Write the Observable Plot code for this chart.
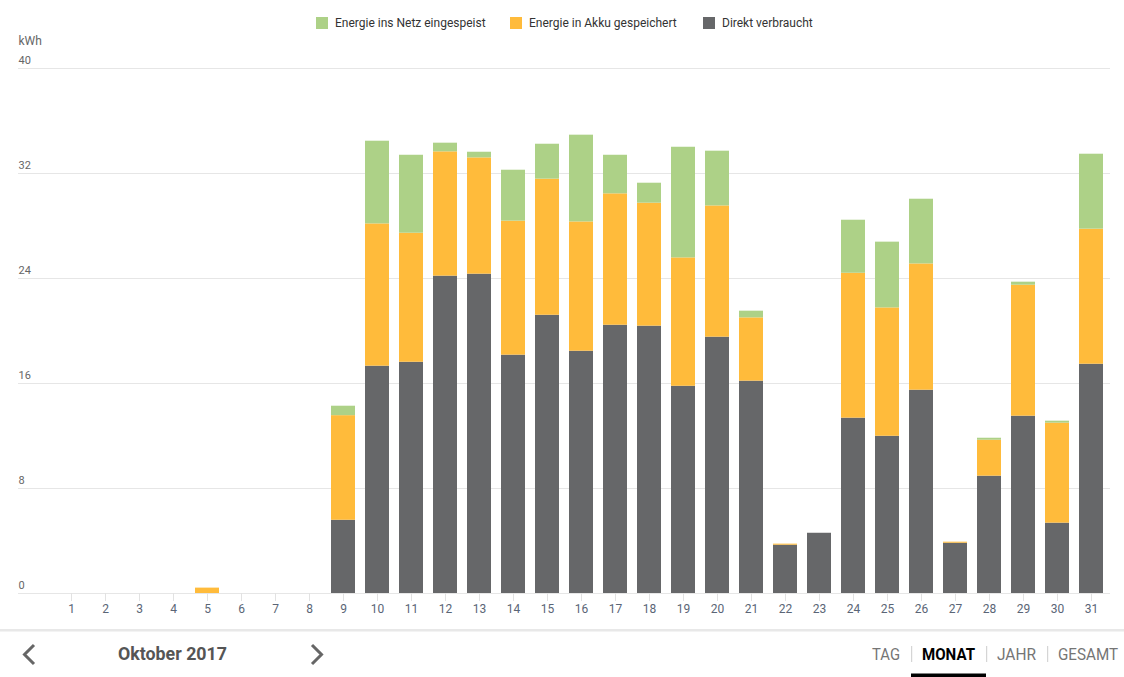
<!DOCTYPE html>
<html>
<head>
<meta charset="utf-8">
<script src="https://cdn.jsdelivr.net/npm/d3@7"></script>
<script src="https://cdn.jsdelivr.net/npm/@observablehq/plot@0.6"></script>
<style>
  html, body { margin: 0; padding: 0; background: #fff; }
  body { width: 1124px; height: 677px; overflow: hidden; font-family: Roboto, sans-serif; }
  #legend, #nav { display: block; }
  #chart svg { display: block; }
</style>
</head>
<body>
<svg id="legend" width="1124" height="30"></svg>
<div id="chart"></div>
<svg id="nav" width="1124" height="48"></svg>
<script>
// ---- Data ----
const days = [1,2,3,4,5,6,7,8,9,10,11,12,13,14,15,16,17,18,19,20,21,22,23,24,25,26,27,28,29,30,31];
const direkt = [0,0,0,0,0,0,0,0,5.58,17.32,17.62,24.18,24.33,18.16,21.20,18.46,20.44,20.37,15.79,19.53,16.18,3.68,4.59,13.36,11.98,15.49,3.83,8.94,13.51,5.36,17.47];
const akku   = [0,0,0,0,0.41,0,0,0,7.97,10.84,9.83,9.47,8.86,10.21,10.37,9.85,10.01,9.37,9.78,10.00,4.82,0.08,0,11.04,9.78,9.62,0.08,2.74,9.98,7.62,10.29];
const netz   = [0,0,0,0,0,0,0,0,0.72,6.30,5.94,0.66,0.43,3.88,2.66,6.61,2.94,1.52,8.43,4.17,0.51,0,0,4.04,5.01,4.93,0,0.15,0.23,0.15,5.71];
const seriesNames = ["Direkt verbraucht", "Energie in Akku gespeichert", "Energie ins Netz eingespeist"];
const seriesColors = ["#666769", "#ffbb3b", "#add187"];
const legendOrder = ["Energie ins Netz eingespeist", "Energie in Akku gespeichert", "Direkt verbraucht"];
const yTicks = [0, 8, 16, 24, 32, 40];
const yUnit = "kWh";
const periodLabel = "Oktober 2017";
const tabs = ["TAG", "MONAT", "JAHR", "GESAMT"];
const activeTab = "MONAT";

// ---- Table ----
const seriesValues = [direkt, akku, netz];
const rows = [];
days.forEach((d, i) => {
  seriesNames.forEach((s, k) => rows.push({day: d, series: s, value: seriesValues[k][i]}));
});

// ---- Legend ----
const NS = "http://www.w3.org/2000/svg";
function el(parent, tag, attrs, text) {
  const e = document.createElementNS(NS, tag);
  for (const k in attrs) e.setAttribute(k, attrs[k]);
  if (text != null) e.textContent = text;
  parent.appendChild(e);
  return e;
}
const legend = document.getElementById("legend");
const legendX = [316, 510, 703];
legendOrder.forEach((name, i) => {
  const color = seriesColors[seriesNames.indexOf(name)];
  el(legend, "rect", {x: legendX[i], y: 17, width: 12, height: 12, fill: color});
  el(legend, "text", {x: legendX[i] + 19, y: 27.3, "font-size": 12, fill: "#333", "font-family": "Roboto, sans-serif"}, name);
});

// ---- Chart ----
const chart = Plot.plot({
  width: 1124,
  height: 599,
  marginLeft: 51,
  marginRight: 14,
  marginTop: 38,
  marginBottom: 36,
  style: {fontFamily: "Roboto, sans-serif", background: "transparent"},
  x: {type: "band", domain: days, paddingInner: 0.3, paddingOuter: 0.15, axis: null, label: null},
  y: {domain: [0, 40], axis: null, label: null},
  color: {domain: seriesNames, range: seriesColors},
  marks: [
    Plot.ruleY(yTicks, {stroke: "#e6e6e6", strokeWidth: 1, insetLeft: -33}),
    Plot.barY(rows, {x: "day", y: "value", fill: "series", order: seriesNames}),
    Plot.axisX({tickSize: 8, tickPadding: 3, stroke: "#e2e2e2", fill: "#5a6576", fontSize: 12, label: null}),
    Plot.text(yTicks, {y: d => d, text: d => String(d), frameAnchor: "left", dx: -33, dy: -8, textAnchor: "start", fill: "#666", fontSize: 11}),
    Plot.text([yUnit], {frameAnchor: "top-left", dx: -33, dy: -32, textAnchor: "start", fill: "#666", fontSize: 12})
  ]
});
document.getElementById("chart").appendChild(chart);

// ---- Navigation ----
const nav = document.getElementById("nav");
el(nav, "rect", {x: 0, y: 0, width: 1124, height: 2.5, fill: "#e8e8e8"});
el(nav, "polyline", {points: "34,16 24.5,25.5 34,35", fill: "none", stroke: "#666", "stroke-width": 3});
el(nav, "polyline", {points: "312,16 321.5,25.5 312,35", fill: "none", stroke: "#666", "stroke-width": 3});
el(nav, "text", {x: 118, y: 31, "font-size": 18, "font-weight": "bold", fill: "#555", "font-family": "Roboto, sans-serif", textLength: 109, lengthAdjust: "spacingAndGlyphs"}, periodLabel);
const tabX = [872, 922, 997, 1058];
const tabW = [28, 53, 39, 60];
tabs.forEach((t, i) => {
  const active = t === activeTab;
  el(nav, "text", {x: tabX[i], y: 31, "font-size": 17, "font-weight": active ? "bold" : "normal", fill: active ? "#000" : "#757575", "font-family": "Roboto, sans-serif", textLength: tabW[i], lengthAdjust: "spacingAndGlyphs"}, t);
});
[911.7, 986.7, 1047.7].forEach(x => el(nav, "line", {x1: x, x2: x, y1: 17, y2: 33, stroke: "#cccccc", "stroke-width": 1}));
el(nav, "rect", {x: 911, y: 44.5, width: 75, height: 4, fill: "#000"});
</script>
</body>
</html>
